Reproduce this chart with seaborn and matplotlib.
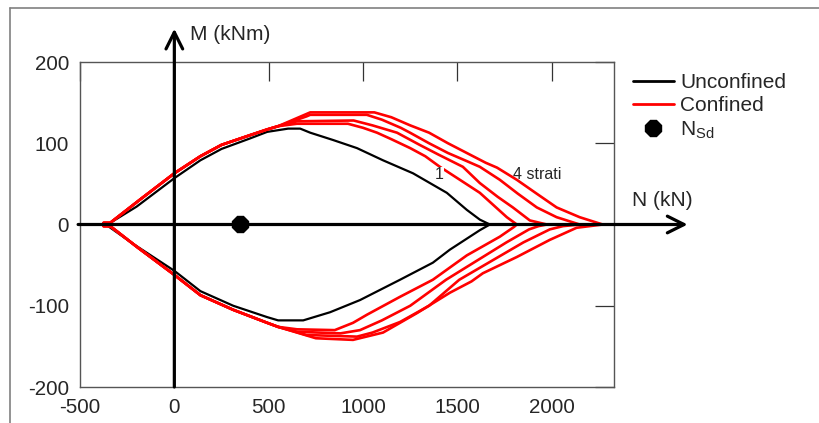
import numpy as np
import pandas as pd
import matplotlib
matplotlib.use("Agg")
from matplotlib import pyplot as plt
from matplotlib.lines import Line2D
import seaborn as sns

sns.set_style("white")
plt.rcParams["font.family"] = ["Liberation Sans", "DejaVu Sans"]
plt.rcParams["mathtext.fontset"] = "custom"
plt.rcParams["mathtext.rm"] = "Liberation Sans"
plt.rcParams["axes.unicode_minus"] = False

# Unconfined M-N domain (black)
unc_up_N = [-365, -340, -200, 0, 138, 250, 402, 492, 603, 667, 720, 841, 968, 1106, 1265, 1444, 1550, 1619, 1672]
unc_up_M = [0, 2, 22, 57, 79, 93, 106, 114, 118, 118, 113, 104, 94, 79, 63, 39, 18, 6, 0]
unc_lo_N = [1672, 1619, 1460, 1370, 1196, 984, 825, 683, 550, 492, 312, 138, 0, -217, -339, -365]
unc_lo_M = [0, -7, -31, -47, -68, -93, -108, -118, -118, -114, -100, -82, -57, -24, -4, 0]

# Confined domains (red), common left part
conf_up_N = [-375, -340, -180, 0, 138, 250, 402, 492, 550]
conf_up_M = [2, 2, 31, 63, 84, 98, 110, 117, 121]
conf_lo_N = [550, 492, 312, 138, 0, -196, -340, -375]
conf_lo_M = [-126, -121, -105, -87, -62, -28, -2, -2]

# 1 to 4 layers (strati), right part
l1_up_N = [650, 920, 1000, 1074, 1150, 1250, 1330, 1407, 1500, 1619, 1700, 1762, 1815]
l1_up_M = [124, 124, 119, 113, 105, 94, 84, 71, 57, 39, 22, 9, 0]
l1_lo_N = [1800, 1725, 1550, 1370, 1196, 1021, 947, 850, 650]
l1_lo_M = [-3, -15, -38, -68, -89, -111, -121, -130, -129]

l2_up_N = [650, 950, 1050, 1180, 1300, 1400, 1529, 1619, 1714, 1794, 1884, 1974]
l2_up_M = [127, 128, 122, 113, 98, 86, 71, 51, 34, 21, 5, 0]
l2_lo_N = [1930, 1880, 1760, 1600, 1440, 1250, 1100, 984, 880, 650]
l2_lo_M = [-2, -6, -22, -45, -68, -100, -118, -130, -134, -132]

l3_up_N = [700, 720, 1020, 1100, 1200, 1249, 1350, 1450, 1550, 1619, 1725, 1820, 1921, 2026, 2148]
l3_up_M = [133, 135, 135, 129, 119, 113, 100, 88, 78, 71, 55, 38, 21, 9, 0]
l3_lo_N = [2060, 1990, 1850, 1680, 1510, 1350, 1196, 1050, 968, 700]
l3_lo_M = [-2, -6, -22, -45, -68, -100, -120, -133, -138, -136]

l4_up_N = [720, 1060, 1150, 1250, 1350, 1450, 1550, 1650, 1710, 1815, 1920, 2026, 2148, 2270]
l4_up_M = [138, 138, 132, 122, 113, 100, 88, 76, 70, 55, 38, 21, 9, 0]
l4_lo_N = [2201, 2132, 1989, 1815, 1635, 1575, 1460, 1286, 1106, 947, 750]
l4_lo_M = [-2, -4, -19, -40, -60, -70, -84, -109, -133, -142, -140]

N_sd = 349
M_sd = 0

xticks = [-500, 0, 500, 1000, 1500, 2000]
yticks = [-200, -100, 0, 100, 200]

# build one table, each curve as a closed loop
rows = []
def add_curve(name, kind, N, M):
    for i, (n, m) in enumerate(zip(N, M)):
        rows.append({"curve": name, "kind": kind, "order": i, "N": n, "M": m})

add_curve("unconfined", "Unconfined", unc_up_N + unc_lo_N, unc_up_M + unc_lo_M)
layers = [(l1_up_N, l1_up_M, l1_lo_N, l1_lo_M),
          (l2_up_N, l2_up_M, l2_lo_N, l2_lo_M),
          (l3_up_N, l3_up_M, l3_lo_N, l3_lo_M),
          (l4_up_N, l4_up_M, l4_lo_N, l4_lo_M)]
for k, (uN, uM, lN, lM) in enumerate(layers):
    add_curve("conf%d" % (k + 1), "Confined",
              conf_up_N + uN + lN + conf_lo_N,
              conf_up_M + uM + lM + conf_lo_M)
df = pd.DataFrame(rows)

fig = plt.figure(figsize=(8.19, 4.23), dpi=100)
ax = fig.add_axes([80 / 819, 1 - 387 / 423, (614 - 80) / 819, (387 - 62) / 423])

for name, sub in df.groupby("curve", sort=False):
    black = sub["kind"].iloc[0] == "Unconfined"
    sns.lineplot(data=sub, x="N", y="M", sort=False, estimator=None, ax=ax,
                 color="black" if black else "red", lw=1.6 if black else 1.9, zorder=3)

ax.set_xlim(-500, 2330)
ax.set_ylim(-200, 200)
ax.set_xticks(xticks)
ax.set_xticklabels([str(t) for t in xticks])
ax.set_yticks(yticks)
ax.set_yticklabels([str(t) for t in yticks])
ax.set_xlabel("")
ax.set_ylabel("")
ax.tick_params(direction="in", length=14, width=0.9, top=True, right=True,
               labelsize=14.8, color="#333333", pad=8)
ax.tick_params(axis="y", pad=8)
for s in ax.spines.values():
    s.set_color("#555555")
    s.set_linewidth(1.0)

# axis arrows
arr = dict(arrowstyle="->", lw=2.3, color="black", mutation_scale=30, shrinkA=0, shrinkB=0)
ax.annotate("", xy=(0, 241), xytext=(0, -200), arrowprops=arr, annotation_clip=False, zorder=6)
ax.annotate("", xy=(2720, 0), xytext=(-510, 0), arrowprops=arr, annotation_clip=False, zorder=6)

ax.plot([N_sd], [M_sd], marker="8", ms=12, color="black", ls="none", zorder=8)

ax.text(1794, 61, "4 strati", fontsize=11.5, ha="left", va="center")
ax.text(1381, 61, "1", fontsize=11.5, ha="left", va="center",
        bbox=dict(facecolor="white", edgecolor="none", pad=0.5), zorder=5)

fig.text(190 / 819, 1 - 34 / 423, "M (kNm)", fontsize=15, ha="left", va="center")
fig.text(632 / 819, 1 - 200 / 423, "N (kN)", fontsize=15, ha="left", va="center")

handles = [Line2D([], [], color="black", lw=2),
           Line2D([], [], color="red", lw=2),
           Line2D([], [], color="black", ls="none", marker="8", ms=12)]
fig.legend(handles, ["Unconfined", "Confined", "N$_{\\mathrm{Sd}}$"],
           loc="upper left", bbox_to_anchor=(633 / 819, 1 - 73 / 423),
           frameon=False, borderpad=0, borderaxespad=0, handlelength=1.95,
           handletextpad=0.3, labelspacing=0.2, fontsize=15)

# outer frame (top and left only visible)
fig.add_artist(Line2D([10 / 819, 1], [1 - 8 / 423, 1 - 8 / 423], transform=fig.transFigure,
                      color="#808080", lw=1.2))
fig.add_artist(Line2D([10 / 819, 10 / 819], [0, 1 - 8 / 423], transform=fig.transFigure,
                      color="#808080", lw=1.2))

fig.savefig("out.png", dpi=100)
